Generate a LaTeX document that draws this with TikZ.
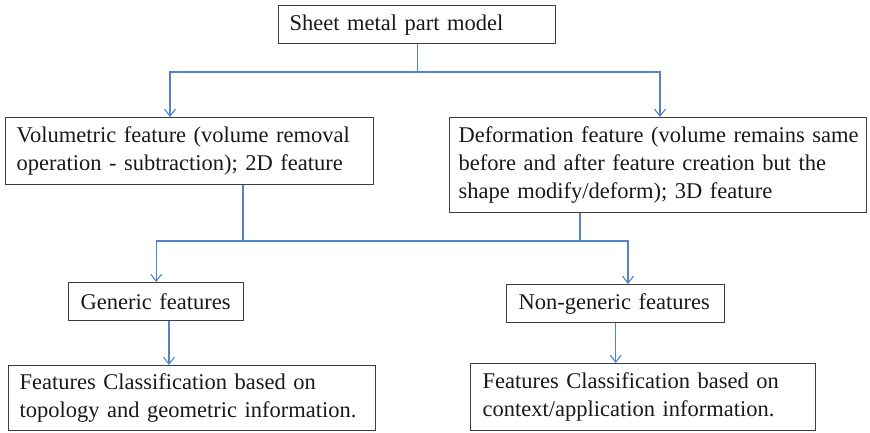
\documentclass[tikz,border=0pt]{standalone}
\usepackage{fontspec}
\setmainfont{Liberation Serif}[WordSpace=1.4]
\usetikzlibrary{arrows.meta}
\definecolor{linkblue}{RGB}{83,130,200}
\definecolor{boxgray}{RGB}{60,60,60}
\definecolor{txt}{RGB}{25,25,25}
\tikzset{
  box/.style={draw=boxgray, line width=1.4pt, rectangle, inner xsep=11pt, inner ysep=0pt,
    align=left, anchor=north west, text=txt,
    font=\fontsize{22.5}{28}\selectfont},
  conn/.style={draw=linkblue, line width=1.1pt},
  arr/.style={conn, -{Straight Barb[length=7pt,width=11pt]}}
}
\begin{document}
\begin{tikzpicture}[x=1pt,y=-1pt]
\useasboundingbox (0,0) rectangle (870,433);
% boxes
\node[box, text width=255pt, minimum height=38pt] (top) at (278,5) {\mbox{Sheet metal part model}};
\node[box, text width=346pt, minimum height=67pt] (vol) at (5,117)
  {\mbox{Volumetric feature (volume removal}\\\mbox{operation - subtraction); 2D feature}};
\node[box, inner xsep=9pt, text width=399pt, minimum height=95pt] (def) at (449,117)
  {\mbox{Deformation feature (volume remains same}\\\mbox{before and after feature creation but the}\\\mbox{shape modify/deform); 3D feature}};
\node[box, inner xsep=12pt, text width=151pt, minimum height=38pt] (gen) at (68,282) {\mbox{Generic features}};
\node[box, inner xsep=12pt, text width=194pt, minimum height=38pt] (ng) at (506,284) {\mbox{Non-generic features}};
\node[box, text width=345pt, minimum height=65pt] (bl) at (8,365)
  {\mbox{Features Classification based on}\\\mbox{topology and geometric information.}};
\node[box, inner xsep=12pt, text width=321pt, minimum height=67pt] (br) at (470,363)
  {\mbox{Features Classification based on}\\\mbox{context/application information.}};
% junction coordinates
\coordinate (j1) at (417,72);
\coordinate (j2) at (0,241);
\coordinate (vin) at ([xshift=165pt]vol.north west);
\coordinate (din) at ([xshift=211pt]def.north west);
\coordinate (va) at ([xshift=238pt]vol.south west);
\coordinate (da) at ([xshift=131pt]def.south west);
\coordinate (ngin) at ([xshift=122pt]ng.north west);
\coordinate (gs) at ([xshift=101pt]gen.south west);
% connectors
\draw[conn] (top.south) -- (top.south |- j1);
\draw[arr] (top.south |- j1) -| (vin);
\draw[arr] (top.south |- j1) -| (din);
\draw[conn] (va) -- (va |- j2);
\draw[conn] (da) -- (da |- j2);
\draw[arr] (va |- j2) -| (gen.north);
\draw[arr] (va |- j2) -| (ngin);
\draw[arr] (gs) -- (gs |- bl.north);
\draw[arr] (ng.south) -- (ng.south |- br.north);
\end{tikzpicture}
\end{document}
